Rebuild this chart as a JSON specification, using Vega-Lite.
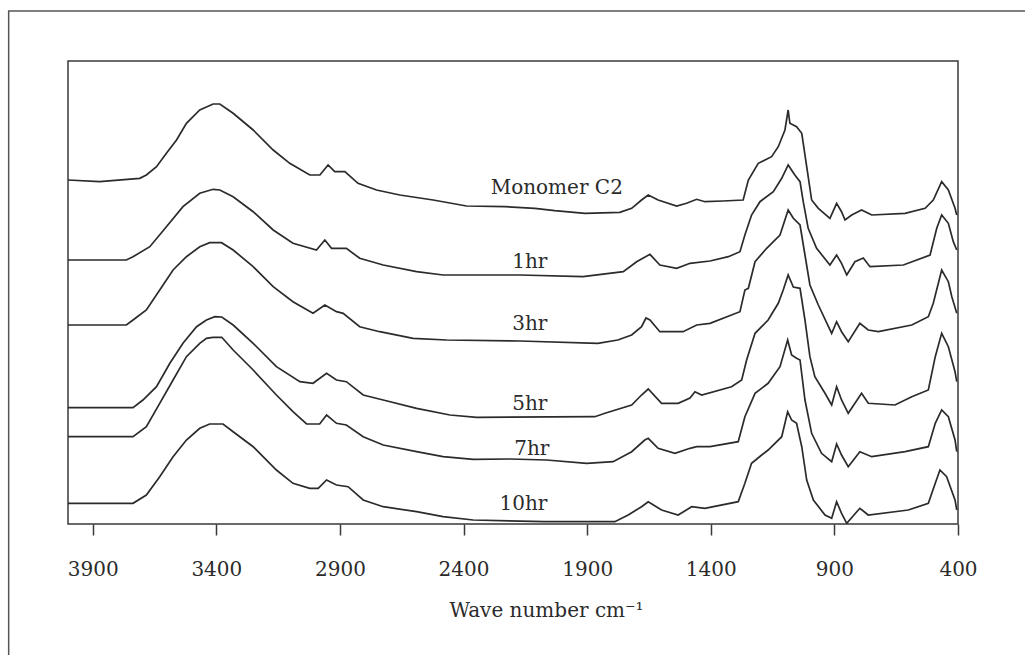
{
  "$schema": "https://vega.github.io/schema/vega-lite/v6.json",
  "width": 890,
  "height": 463,
  "autosize": {"type": "none"},
  "padding": {"left": 68, "top": 61, "right": 67, "bottom": 131},
  "background": "white",
  "config": {"view": {"stroke": "#3a3a3a", "strokeWidth": 1.5}, "font": "DejaVu Serif"},
  "datasets": {
    "frame": [{"w": 4240, "w2": -400, "a": 513, "a2": -400}],
    "labels": [
      {"t": "Monomer C2", "w": 2023, "a": 330},
      {"t": "1hr", "w": 2132, "a": 256},
      {"t": "3hr", "w": 2132, "a": 194},
      {"t": "5hr", "w": 2132, "a": 114},
      {"t": "7hr", "w": 2124, "a": 69},
      {"t": "10hr", "w": 2158, "a": 14}
    ],
    "spectra": [
      {"s":"Monomer C2","w":4000,"a":344},{"s":"Monomer C2","w":3872,"a":342.3},{"s":"Monomer C2","w":3710,"a":345.7},{"s":"Monomer C2","w":3683,"a":349},{"s":"Monomer C2","w":3642,"a":357.3},{"s":"Monomer C2","w":3602,"a":370.7},{"s":"Monomer C2","w":3561,"a":384},{"s":"Monomer C2","w":3521,"a":400.7},{"s":"Monomer C2","w":3467,"a":414},{"s":"Monomer C2","w":3413,"a":420},{"s":"Monomer C2","w":3386,"a":420},{"s":"Monomer C2","w":3332,"a":410.7},{"s":"Monomer C2","w":3251,"a":394},{"s":"Monomer C2","w":3170,"a":374},{"s":"Monomer C2","w":3103,"a":360.7},{"s":"Monomer C2","w":3022,"a":349},{"s":"Monomer C2","w":2981,"a":349},{"s":"Monomer C2","w":2948,"a":359},{"s":"Monomer C2","w":2921,"a":352.3},{"s":"Monomer C2","w":2880,"a":352.3},{"s":"Monomer C2","w":2827,"a":340.7},{"s":"Monomer C2","w":2752,"a":334},{"s":"Monomer C2","w":2658,"a":329},{"s":"Monomer C2","w":2523,"a":324},{"s":"Monomer C2","w":2388,"a":318},{"s":"Monomer C2","w":2233,"a":317.3},{"s":"Monomer C2","w":2112,"a":315.7},{"s":"Monomer C2","w":2031,"a":313.3},{"s":"Monomer C2","w":1909,"a":310.7},{"s":"Monomer C2","w":1768,"a":311.7},{"s":"Monomer C2","w":1720,"a":315.7},{"s":"Monomer C2","w":1680,"a":324},{"s":"Monomer C2","w":1653,"a":329},{"s":"Monomer C2","w":1613,"a":324},{"s":"Monomer C2","w":1538,"a":318},{"s":"Monomer C2","w":1498,"a":320.7},{"s":"Monomer C2","w":1457,"a":324.7},{"s":"Monomer C2","w":1424,"a":322.3},{"s":"Monomer C2","w":1350,"a":323},{"s":"Monomer C2","w":1269,"a":324},{"s":"Monomer C2","w":1248,"a":344},{"s":"Monomer C2","w":1208,"a":360.7},{"s":"Monomer C2","w":1154,"a":367.3},{"s":"Monomer C2","w":1127,"a":377.3},{"s":"Monomer C2","w":1100,"a":394},{"s":"Monomer C2","w":1087,"a":414},{"s":"Monomer C2","w":1080,"a":400.7},{"s":"Monomer C2","w":1053,"a":397.3},{"s":"Monomer C2","w":1032,"a":390.7},{"s":"Monomer C2","w":1012,"a":357.3},{"s":"Monomer C2","w":992,"a":324},{"s":"Monomer C2","w":965,"a":315.7},{"s":"Monomer C2","w":918,"a":305.7},{"s":"Monomer C2","w":891,"a":320.7},{"s":"Monomer C2","w":871,"a":312.3},{"s":"Monomer C2","w":857,"a":304},{"s":"Monomer C2","w":830,"a":309},{"s":"Monomer C2","w":790,"a":314},{"s":"Monomer C2","w":749,"a":309},{"s":"Monomer C2","w":614,"a":310.7},{"s":"Monomer C2","w":533,"a":315.7},{"s":"Monomer C2","w":500,"a":324},{"s":"Monomer C2","w":466,"a":342.3},{"s":"Monomer C2","w":439,"a":334},{"s":"Monomer C2","w":412,"a":315.7},{"s":"Monomer C2","w":405,"a":309},
      {"s":"1hr","w":4000,"a":264},{"s":"1hr","w":3764,"a":264},{"s":"1hr","w":3737,"a":267.3},{"s":"1hr","w":3669,"a":277.3},{"s":"1hr","w":3602,"a":297.3},{"s":"1hr","w":3535,"a":317.3},{"s":"1hr","w":3467,"a":330.7},{"s":"1hr","w":3413,"a":334.7},{"s":"1hr","w":3386,"a":334},{"s":"1hr","w":3332,"a":327.3},{"s":"1hr","w":3251,"a":312.3},{"s":"1hr","w":3170,"a":294},{"s":"1hr","w":3090,"a":280.7},{"s":"1hr","w":2995,"a":274},{"s":"1hr","w":2961,"a":284},{"s":"1hr","w":2934,"a":275.7},{"s":"1hr","w":2874,"a":275.7},{"s":"1hr","w":2820,"a":265.7},{"s":"1hr","w":2725,"a":259},{"s":"1hr","w":2590,"a":252.3},{"s":"1hr","w":2483,"a":249},{"s":"1hr","w":2172,"a":249},{"s":"1hr","w":1917,"a":247.3},{"s":"1hr","w":1754,"a":252.3},{"s":"1hr","w":1700,"a":262.3},{"s":"1hr","w":1646,"a":269.7},{"s":"1hr","w":1606,"a":259},{"s":"1hr","w":1538,"a":255.7},{"s":"1hr","w":1484,"a":260.7},{"s":"1hr","w":1403,"a":263},{"s":"1hr","w":1329,"a":267.3},{"s":"1hr","w":1282,"a":272.3},{"s":"1hr","w":1262,"a":289},{"s":"1hr","w":1235,"a":309},{"s":"1hr","w":1201,"a":322.3},{"s":"1hr","w":1147,"a":332.3},{"s":"1hr","w":1113,"a":345.7},{"s":"1hr","w":1087,"a":359},{"s":"1hr","w":1060,"a":349},{"s":"1hr","w":1039,"a":342.3},{"s":"1hr","w":1026,"a":322.3},{"s":"1hr","w":1006,"a":295.7},{"s":"1hr","w":972,"a":275.7},{"s":"1hr","w":918,"a":259},{"s":"1hr","w":891,"a":269},{"s":"1hr","w":871,"a":260.7},{"s":"1hr","w":850,"a":249},{"s":"1hr","w":817,"a":262.3},{"s":"1hr","w":783,"a":266},{"s":"1hr","w":756,"a":257.3},{"s":"1hr","w":621,"a":259},{"s":"1hr","w":513,"a":269},{"s":"1hr","w":486,"a":295.7},{"s":"1hr","w":466,"a":309},{"s":"1hr","w":439,"a":300.7},{"s":"1hr","w":419,"a":282.3},{"s":"1hr","w":405,"a":274},
      {"s":"3hr","w":4000,"a":199},{"s":"3hr","w":3764,"a":199},{"s":"3hr","w":3737,"a":204},{"s":"3hr","w":3683,"a":214},{"s":"3hr","w":3629,"a":234},{"s":"3hr","w":3575,"a":254},{"s":"3hr","w":3521,"a":267.3},{"s":"3hr","w":3467,"a":277.3},{"s":"3hr","w":3427,"a":281.3},{"s":"3hr","w":3379,"a":281.3},{"s":"3hr","w":3332,"a":274},{"s":"3hr","w":3251,"a":257.3},{"s":"3hr","w":3170,"a":237.3},{"s":"3hr","w":3090,"a":222.3},{"s":"3hr","w":3009,"a":210.7},{"s":"3hr","w":2961,"a":219},{"s":"3hr","w":2914,"a":212.3},{"s":"3hr","w":2887,"a":210.7},{"s":"3hr","w":2820,"a":197.3},{"s":"3hr","w":2739,"a":192.3},{"s":"3hr","w":2604,"a":185.7},{"s":"3hr","w":2469,"a":184},{"s":"3hr","w":2172,"a":183},{"s":"3hr","w":1857,"a":180.7},{"s":"3hr","w":1776,"a":184},{"s":"3hr","w":1720,"a":189},{"s":"3hr","w":1680,"a":197.3},{"s":"3hr","w":1662,"a":206},{"s":"3hr","w":1646,"a":204},{"s":"3hr","w":1606,"a":192.3},{"s":"3hr","w":1512,"a":192.3},{"s":"3hr","w":1457,"a":199},{"s":"3hr","w":1403,"a":200.7},{"s":"3hr","w":1282,"a":212.3},{"s":"3hr","w":1262,"a":234},{"s":"3hr","w":1248,"a":235.7},{"s":"3hr","w":1221,"a":262.3},{"s":"3hr","w":1174,"a":275.7},{"s":"3hr","w":1120,"a":289},{"s":"3hr","w":1087,"a":314},{"s":"3hr","w":1066,"a":305.7},{"s":"3hr","w":1039,"a":299},{"s":"3hr","w":1019,"a":269},{"s":"3hr","w":999,"a":239},{"s":"3hr","w":965,"a":219},{"s":"3hr","w":911,"a":190.7},{"s":"3hr","w":891,"a":202.3},{"s":"3hr","w":871,"a":192.3},{"s":"3hr","w":844,"a":182.3},{"s":"3hr","w":797,"a":200.7},{"s":"3hr","w":763,"a":194},{"s":"3hr","w":722,"a":192.3},{"s":"3hr","w":587,"a":199},{"s":"3hr","w":520,"a":207.3},{"s":"3hr","w":500,"a":220.7},{"s":"3hr","w":466,"a":254},{"s":"3hr","w":439,"a":242.3},{"s":"3hr","w":425,"a":227.3},{"s":"3hr","w":405,"a":210.7},
      {"s":"5hr","w":4000,"a":116.3},{"s":"5hr","w":3737,"a":116.3},{"s":"5hr","w":3697,"a":124},{"s":"5hr","w":3642,"a":137.3},{"s":"5hr","w":3588,"a":160.7},{"s":"5hr","w":3535,"a":180.7},{"s":"5hr","w":3480,"a":197.3},{"s":"5hr","w":3440,"a":204},{"s":"5hr","w":3406,"a":207.3},{"s":"5hr","w":3378,"a":207},{"s":"5hr","w":3332,"a":199},{"s":"5hr","w":3251,"a":180.7},{"s":"5hr","w":3157,"a":157.3},{"s":"5hr","w":3062,"a":142.3},{"s":"5hr","w":3009,"a":140.7},{"s":"5hr","w":2954,"a":150.7},{"s":"5hr","w":2914,"a":144},{"s":"5hr","w":2874,"a":142.3},{"s":"5hr","w":2806,"a":129},{"s":"5hr","w":2725,"a":124},{"s":"5hr","w":2590,"a":115.7},{"s":"5hr","w":2455,"a":109},{"s":"5hr","w":2347,"a":106.7},{"s":"5hr","w":1869,"a":107.3},{"s":"5hr","w":1828,"a":110.7},{"s":"5hr","w":1720,"a":119},{"s":"5hr","w":1680,"a":129},{"s":"5hr","w":1653,"a":135},{"s":"5hr","w":1599,"a":120.7},{"s":"5hr","w":1532,"a":120.7},{"s":"5hr","w":1484,"a":126},{"s":"5hr","w":1464,"a":132.3},{"s":"5hr","w":1437,"a":129},{"s":"5hr","w":1316,"a":137.3},{"s":"5hr","w":1275,"a":144},{"s":"5hr","w":1255,"a":164},{"s":"5hr","w":1221,"a":190.7},{"s":"5hr","w":1168,"a":204},{"s":"5hr","w":1127,"a":220.7},{"s":"5hr","w":1107,"a":234},{"s":"5hr","w":1087,"a":249},{"s":"5hr","w":1066,"a":237},{"s":"5hr","w":1039,"a":235.7},{"s":"5hr","w":1019,"a":204},{"s":"5hr","w":999,"a":167.3},{"s":"5hr","w":979,"a":147.3},{"s":"5hr","w":938,"a":130.7},{"s":"5hr","w":911,"a":119},{"s":"5hr","w":891,"a":137.3},{"s":"5hr","w":871,"a":124},{"s":"5hr","w":844,"a":110.7},{"s":"5hr","w":790,"a":130.7},{"s":"5hr","w":763,"a":120.7},{"s":"5hr","w":655,"a":119},{"s":"5hr","w":587,"a":127.3},{"s":"5hr","w":520,"a":134},{"s":"5hr","w":492,"a":167.3},{"s":"5hr","w":466,"a":190.7},{"s":"5hr","w":439,"a":177.3},{"s":"5hr","w":412,"a":152.3},{"s":"5hr","w":405,"a":142.3},
      {"s":"7hr","w":4000,"a":87.3},{"s":"7hr","w":3737,"a":87.3},{"s":"7hr","w":3683,"a":97.3},{"s":"7hr","w":3629,"a":120.7},{"s":"7hr","w":3575,"a":144},{"s":"7hr","w":3521,"a":167.3},{"s":"7hr","w":3467,"a":180.7},{"s":"7hr","w":3440,"a":185.7},{"s":"7hr","w":3414,"a":186.7},{"s":"7hr","w":3378,"a":186.7},{"s":"7hr","w":3332,"a":174},{"s":"7hr","w":3251,"a":154},{"s":"7hr","w":3157,"a":129},{"s":"7hr","w":3090,"a":112.3},{"s":"7hr","w":3035,"a":100},{"s":"7hr","w":2982,"a":100},{"s":"7hr","w":2954,"a":109},{"s":"7hr","w":2914,"a":100.7},{"s":"7hr","w":2874,"a":99},{"s":"7hr","w":2806,"a":87.3},{"s":"7hr","w":2725,"a":79},{"s":"7hr","w":2590,"a":72.3},{"s":"7hr","w":2483,"a":67.3},{"s":"7hr","w":2361,"a":64.7},{"s":"7hr","w":2213,"a":65},{"s":"7hr","w":2064,"a":64},{"s":"7hr","w":1902,"a":60.7},{"s":"7hr","w":1795,"a":62.3},{"s":"7hr","w":1720,"a":72.3},{"s":"7hr","w":1667,"a":84},{"s":"7hr","w":1653,"a":85.7},{"s":"7hr","w":1613,"a":75.7},{"s":"7hr","w":1545,"a":70.7},{"s":"7hr","w":1484,"a":75.7},{"s":"7hr","w":1457,"a":77.3},{"s":"7hr","w":1403,"a":77.3},{"s":"7hr","w":1289,"a":82.3},{"s":"7hr","w":1262,"a":107.3},{"s":"7hr","w":1221,"a":130.7},{"s":"7hr","w":1168,"a":140.7},{"s":"7hr","w":1120,"a":157.3},{"s":"7hr","w":1089,"a":184},{"s":"7hr","w":1073,"a":169},{"s":"7hr","w":1053,"a":165.7},{"s":"7hr","w":1039,"a":164},{"s":"7hr","w":1019,"a":124},{"s":"7hr","w":992,"a":90.7},{"s":"7hr","w":952,"a":70.7},{"s":"7hr","w":911,"a":62.3},{"s":"7hr","w":891,"a":80},{"s":"7hr","w":871,"a":69},{"s":"7hr","w":844,"a":57.3},{"s":"7hr","w":797,"a":72.3},{"s":"7hr","w":749,"a":67.3},{"s":"7hr","w":614,"a":72.3},{"s":"7hr","w":520,"a":77.3},{"s":"7hr","w":492,"a":100.7},{"s":"7hr","w":466,"a":114},{"s":"7hr","w":439,"a":107.3},{"s":"7hr","w":412,"a":84},{"s":"7hr","w":405,"a":72.3},
      {"s":"10hr","w":4000,"a":20.7},{"s":"10hr","w":3737,"a":20.7},{"s":"10hr","w":3683,"a":29},{"s":"10hr","w":3629,"a":47.3},{"s":"10hr","w":3575,"a":67.3},{"s":"10hr","w":3521,"a":84},{"s":"10hr","w":3467,"a":95.7},{"s":"10hr","w":3427,"a":100},{"s":"10hr","w":3373,"a":100},{"s":"10hr","w":3332,"a":92.3},{"s":"10hr","w":3251,"a":77.3},{"s":"10hr","w":3157,"a":54},{"s":"10hr","w":3090,"a":40.7},{"s":"10hr","w":3022,"a":35.7},{"s":"10hr","w":2988,"a":35.7},{"s":"10hr","w":2954,"a":44},{"s":"10hr","w":2914,"a":39},{"s":"10hr","w":2867,"a":37.3},{"s":"10hr","w":2806,"a":24},{"s":"10hr","w":2725,"a":17.3},{"s":"10hr","w":2590,"a":12.3},{"s":"10hr","w":2483,"a":7.3},{"s":"10hr","w":2361,"a":4},{"s":"10hr","w":2071,"a":2.3},{"s":"10hr","w":1788,"a":2.3},{"s":"10hr","w":1734,"a":9},{"s":"10hr","w":1680,"a":17.3},{"s":"10hr","w":1653,"a":22.3},{"s":"10hr","w":1599,"a":14},{"s":"10hr","w":1532,"a":9},{"s":"10hr","w":1477,"a":17.3},{"s":"10hr","w":1424,"a":15.7},{"s":"10hr","w":1289,"a":22.3},{"s":"10hr","w":1262,"a":40.7},{"s":"10hr","w":1235,"a":60.7},{"s":"10hr","w":1194,"a":69},{"s":"10hr","w":1168,"a":74},{"s":"10hr","w":1113,"a":87.3},{"s":"10hr","w":1089,"a":112.3},{"s":"10hr","w":1073,"a":104},{"s":"10hr","w":1053,"a":100.7},{"s":"10hr","w":1032,"a":77.3},{"s":"10hr","w":1012,"a":44},{"s":"10hr","w":985,"a":24},{"s":"10hr","w":938,"a":9},{"s":"10hr","w":911,"a":5.7},{"s":"10hr","w":891,"a":22.3},{"s":"10hr","w":871,"a":10.7},{"s":"10hr","w":850,"a":0.7},{"s":"10hr","w":797,"a":15.7},{"s":"10hr","w":763,"a":9},{"s":"10hr","w":601,"a":14},{"s":"10hr","w":520,"a":20.7},{"s":"10hr","w":492,"a":40.7},{"s":"10hr","w":473,"a":54},{"s":"10hr","w":446,"a":47.3},{"s":"10hr","w":412,"a":24},{"s":"10hr","w":405,"a":14}
    ]
  },
  "layer": [
    {
      "data": {"name": "spectra"},
      "mark": {"type": "line", "color": "#2b2b2b", "strokeWidth": 1.7, "clip": true},
      "encoding": {
        "x": {
          "field": "w", "type": "quantitative",
          "scale": {"domain": [400, 4000], "reverse": true, "nice": false, "zero": false},
          "axis": {
            "values": [3900, 3400, 2900, 2400, 1900, 1400, 900, 400],
            "format": "d",
            "domain": false, "grid": false,
            "tickSize": 11, "tickWidth": 1.5, "tickColor": "#3a3a3a",
            "labelFont": "DejaVu Serif", "labelFontSize": 20, "labelColor": "#2b2b2b",
            "labelBaseline": "alphabetic", "labelPadding": 40,
            "labelFlush": false, "labelOverlap": false,
            "title": "Wave number cm⁻¹",
            "titleFont": "DejaVu Serif", "titleFontSize": 20, "titleFontWeight": "normal",
            "titleColor": "#2b2b2b", "titleBaseline": "alphabetic", "titleAlign": "center",
            "titleX": 478, "titleY": 92
          }
        },
        "y": {
          "field": "a", "type": "quantitative",
          "scale": {"domain": [0, 463], "nice": false, "zero": false},
          "axis": null
        },
        "detail": {"field": "s"}
      }
    },
    {
      "data": {"name": "labels"},
      "mark": {"type": "text", "font": "DejaVu Serif", "fontSize": 20, "color": "#2b2b2b", "align": "center", "baseline": "alphabetic"},
      "encoding": {
        "x": {"field": "w", "type": "quantitative"},
        "y": {"field": "a", "type": "quantitative"},
        "text": {"field": "t"}
      }
    },
    {
      "data": {"name": "frame"},
      "mark": {"type": "rect", "fillOpacity": 0, "stroke": "#555555", "strokeWidth": 1.5, "clip": false},
      "encoding": {
        "x": {"field": "w", "type": "quantitative"},
        "x2": {"field": "w2"},
        "y": {"field": "a", "type": "quantitative"},
        "y2": {"field": "a2"}
      }
    }
  ]
}
